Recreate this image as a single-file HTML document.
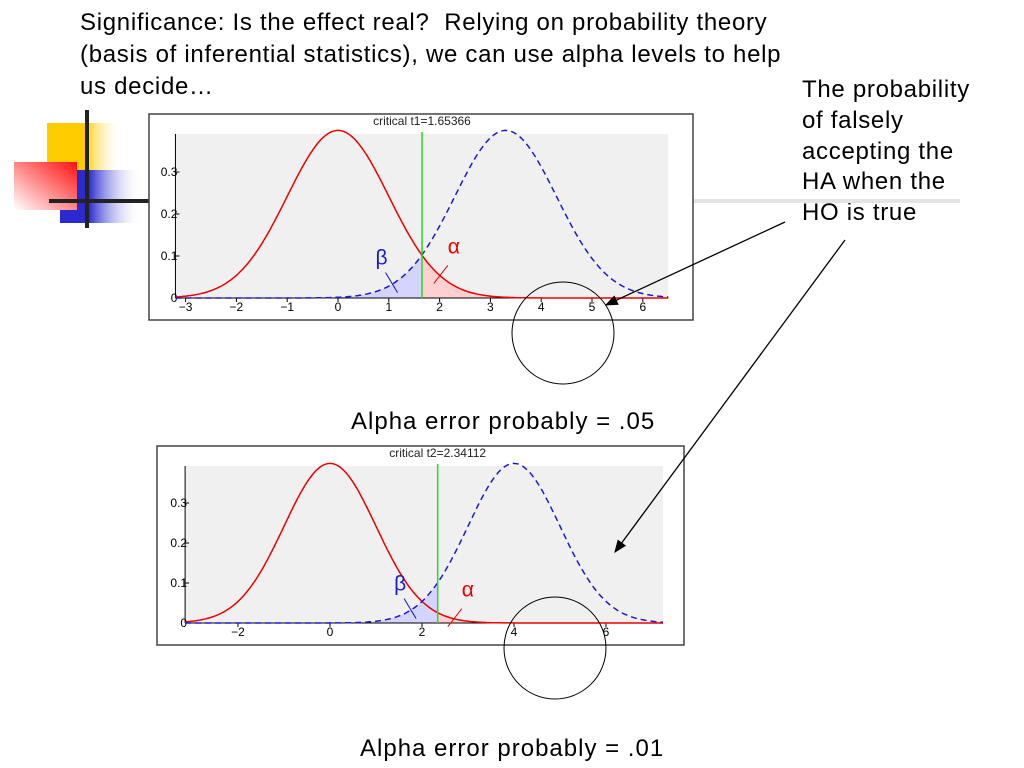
<!DOCTYPE html>
<html><head><meta charset="utf-8"><style>
body{margin:0;width:1024px;height:768px;background:#fff;position:relative;overflow:hidden;font-family:"Liberation Sans","DejaVu Sans",sans-serif}
.t{position:absolute;color:#000;font-size:24px;letter-spacing:0.7px;white-space:nowrap}
</style></head><body>
<div class="t" style="left:80px;top:7px;line-height:32px">Significance: Is the effect real?&nbsp; Relying on probability theory<br>(basis of inferential statistics), we can use alpha levels to help<br>us decide…</div>
<div class="t" style="left:802px;top:75px;line-height:30.8px">The probability<br>of falsely<br>accepting the<br>HA when the<br>HO is true</div>
<div class="t" style="left:351px;top:408px;letter-spacing:1px">Alpha error probably = .05</div>
<div class="t" style="left:360px;top:735px;letter-spacing:1px">Alpha error probably = .01</div>
<svg id="s" width="1024" height="768" style="position:absolute;left:0;top:0">
<defs>
<linearGradient id="gy" x1="0" x2="1"><stop offset="0.5" stop-color="#ffcc00"/><stop offset="1" stop-color="#fff" stop-opacity="0"/></linearGradient>
<linearGradient id="gr" x1="0" y1="1" x2="1" y2="0"><stop offset="0" stop-color="#fff"/><stop offset="1" stop-color="#ff1010"/></linearGradient>
<linearGradient id="gb" x1="0" x2="1"><stop offset="0.35" stop-color="#2a2ad0"/><stop offset="1" stop-color="#fff" stop-opacity="0"/></linearGradient>
<marker id="ah" markerWidth="10" markerHeight="8" refX="9" refY="4" orient="auto"><path d="M0,0 L10,4 L0,8 z" fill="#000"/></marker>
</defs>
<rect x="47" y="123" width="75" height="48" fill="url(#gy)"/>
<rect x="60" y="170" width="82" height="53" fill="url(#gb)"/>
<rect x="14" y="162" width="63" height="48" fill="url(#gr)"/>
<line x1="693" y1="201" x2="960" y2="201" stroke="#e4e4e4" stroke-width="4"/>
<line x1="87" y1="110" x2="87" y2="228" stroke="#222" stroke-width="4"/>
<line x1="49" y1="201" x2="150" y2="201" stroke="#222" stroke-width="4"/>
<g id="c1"></g><g id="c2"></g>
<circle cx="563" cy="333" r="51" fill="none" stroke="#000" stroke-width="1"/>
<circle cx="555" cy="648" r="51" fill="none" stroke="#000" stroke-width="1"/>
<line x1="785" y1="222" x2="606" y2="305" stroke="#000" stroke-width="1.3" marker-end="url(#ah)"/>
<line x1="845" y1="240" x2="615" y2="552" stroke="#000" stroke-width="1.3" marker-end="url(#ah)"/>
</svg>
<script>
const altMeans=[3.3,4.0];
const critVals=[1.65366,2.34112];
const xTicks1=[-3,-2,-1,0,1,2,3,4,5,6];
const xTicks2=[-2,0,2,4,6];
const yTicks=[0,0.1,0.2,0.3];
const NS='http://www.w3.org/2000/svg';
function el(t,a,p){const e=document.createElementNS(NS,t);for(const k in a)e.setAttribute(k,a[k]);p.appendChild(e);return e;}
function pdf(x,m){return Math.exp(-0.5*(x-m)*(x-m))/Math.sqrt(2*Math.PI);}
function chart(g,cfg,mu,crit,ticks,label){
 const X=v=>cfg.x0+v*cfg.kx, Y=v=>cfg.y0-v*cfg.ky;
 const box=el('rect',{x:cfg.bx,y:cfg.by,width:cfg.bw,height:cfg.bh,fill:'#fff',stroke:'#444','stroke-width':1.5},g);
 
 const bg=el('rect',{x:X(cfg.xmin),y:cfg.top,width:X(cfg.xmax)-X(cfg.xmin),height:Y(0)-cfg.top,fill:'#f0f0f0'},g);
 
 const tt=el('text',{x:X(crit),y:cfg.by+11,'font-size':12,'text-anchor':'middle',fill:'#222'},g);tt.textContent=label;
 
 const N=300;function path(m,a,b){let d='';for(let i=0;i<=N;i++){const x=a+(b-a)*i/N;d+=(i?'L':'M')+X(x).toFixed(1)+','+Y(pdf(x,m)).toFixed(1);}return d;}
 const fb=el('path',{d:path(mu,cfg.xmin,crit)+'L'+X(crit)+','+Y(0)+'L'+X(cfg.xmin)+','+Y(0)+'Z',fill:'#d4d4ff'},g);
 
 const fa=el('path',{d:path(0,crit,cfg.xmax)+'L'+X(cfg.xmax)+','+Y(0)+'L'+X(crit)+','+Y(0)+'Z',fill:'#ffd0d0'},g);
 
 const ax=el('line',{x1:X(cfg.xmin),y1:Y(0),x2:X(cfg.xmax),y2:Y(0),stroke:'#000'},g);
 
 const ay=el('line',{x1:X(cfg.xmin),y1:Y(0),x2:X(cfg.xmin),y2:cfg.top,stroke:'#000'},g);
 
 ticks.forEach(v=>{el('line',{x1:X(v),y1:Y(0),x2:X(v),y2:Y(0)+4,stroke:'#000'},g);
  const t=el('text',{x:X(v),y:Y(0)+13,'font-size':12,'text-anchor':'middle'},g);t.textContent=v<0?'\u2212'+(-v):v;
  });
 yTicks.forEach(v=>{el('line',{x1:X(cfg.xmin),y1:Y(v),x2:X(cfg.xmin)+4,y2:Y(v),stroke:'#000'},g);
  const t=el('text',{x:X(cfg.xmin)+2,y:Y(v)+4,'font-size':12,'text-anchor':'end'},g);t.textContent=v===0?'0':v;
  });
 const h0=el('path',{d:path(0,cfg.xmin,cfg.xmax),fill:'none',stroke:'#e00',"stroke-width":1.5},g);
 
 const h1=el('path',{d:path(mu,cfg.xmin,cfg.xmax),fill:'none',stroke:'#1a1ad0',"stroke-width":1.5,'stroke-dasharray':'6,4'},g);
 
 const cl=el('line',{x1:X(crit),y1:cfg.top-2,x2:X(crit),y2:Y(0),stroke:'#2d2','stroke-width':1.5},g);
 
 const bx=crit-0.6,ax2=crit+0.35;
 el('line',{x1:X(bx)-6,y1:Y(pdf(bx,mu))-12,x2:X(bx)+6,y2:Y(pdf(bx,mu))+8,stroke:'#1a1ad0'},g);
 const bt=el('text',{x:X(bx)-16,y:Y(pdf(bx,mu))-20,'font-size':21,fill:'#1a1ad0'},g);bt.textContent='β';
 
 el('line',{x1:X(ax2)-6,y1:Y(pdf(ax2,0))+8,x2:X(ax2)+8,y2:Y(pdf(ax2,0))-10,stroke:'#e00'},g);
 const at=el('text',{x:X(ax2)+8,y:Y(pdf(ax2,0))-22,'font-size':21,fill:'#e00'},g);at.textContent='α';
 
}
chart(document.getElementById('c1'),{bx:149,by:114,bw:544,bh:206,x0:338,kx:50.8,y0:298,ky:420,xmin:-3.2,xmax:6.5,top:134},altMeans[0],critVals[0],xTicks1,'critical t1=1.65366');
chart(document.getElementById('c2'),{bx:157,by:446,bw:527,bh:199,x0:330,kx:46,y0:623,ky:400,xmin:-3.15,xmax:7.24,top:466},altMeans[1],critVals[1],xTicks2,'critical t2=2.34112');
</script>
</body></html>
